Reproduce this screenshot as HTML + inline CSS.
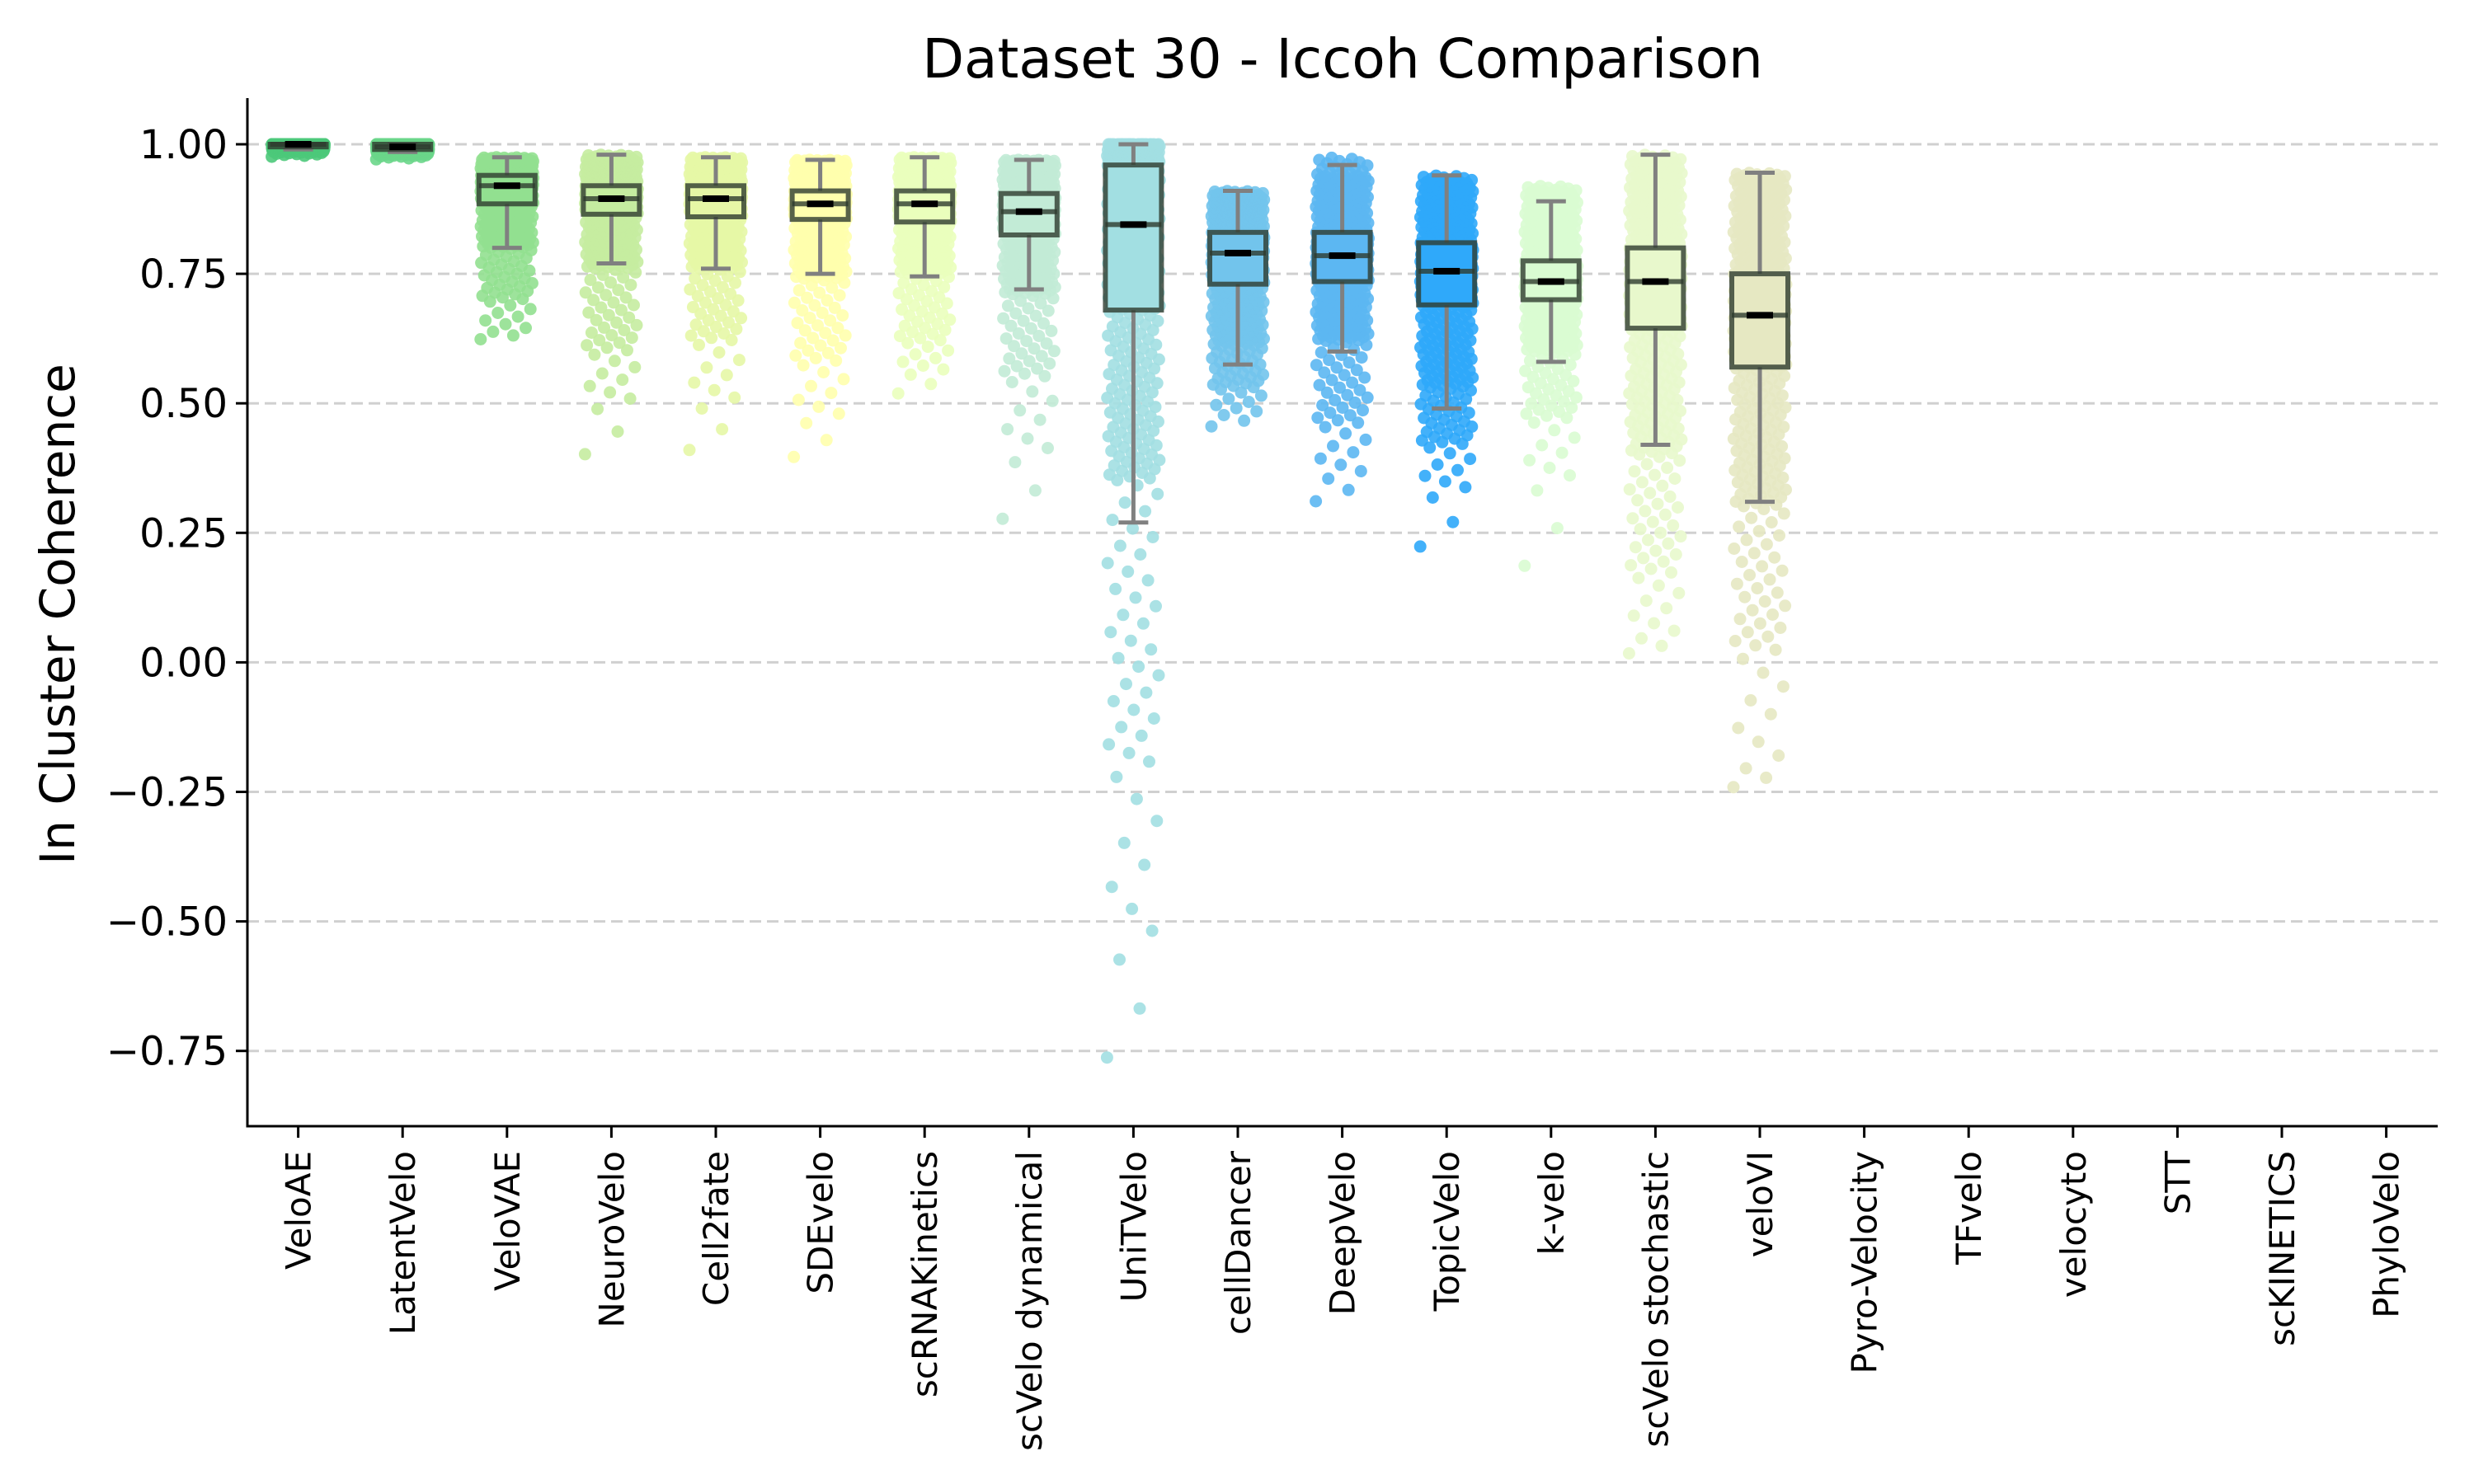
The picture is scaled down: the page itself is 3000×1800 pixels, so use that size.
<!DOCTYPE html>
<html><head><meta charset="utf-8"><style>
html,body{margin:0;padding:0;background:#fff}
svg{display:block}
text{font-family:"DejaVu Sans","Liberation Sans",sans-serif;fill:#000}
</style></head><body>
<svg id="chart" width="3000" height="1800" viewBox="0 0 3000 1800" xmlns="http://www.w3.org/2000/svg">
<text x="1628" y="94" font-size="66" text-anchor="middle">Dataset 30 - Iccoh Comparison</text>
<text transform="translate(90,745) rotate(-90)" font-size="58" text-anchor="middle">In Cluster Coherence</text>
<g id="grid"></g><g id="points"></g><g id="boxes"></g><g id="axes"></g>
</svg>
<script>
const categories=["VeloAE","LatentVelo","VeloVAE","NeuroVelo","Cell2fate","SDEvelo","scRNAKinetics","scVelo dynamical","UniTVelo","cellDancer","DeepVelo","TopicVelo","k-velo","scVelo stochastic","veloVI","Pyro-Velocity","TFvelo","velocyto","STT","scKINETICS","PhyloVelo"];
const colors=["#4cc97a","#6ad68a","#92e090","#c5eca0","#e6f7a6","#ffffad","#eaffbc","#c2ebd6","#a2dfe2","#72c4ec","#5cb7f2","#2fa9fa","#d9fcd2","#e8f8cc","#e6e8c2"];
const quantileKnots=[0,0.005,0.02,0.08,0.25,0.5,0.75,0.97,1];
const distVeloAE=[0.975,0.98,0.985,0.99,0.995,1.0,1.0,1.0,1.0];
const distLatentVelo=[0.97,0.975,0.98,0.985,0.99,0.995,1.0,1.0,1.0];
const distVeloVAE=[0.62,0.64,0.70,0.80,0.885,0.92,0.94,0.97,0.975];
const distNeuroVelo=[0.38,0.50,0.60,0.76,0.865,0.895,0.92,0.97,0.98];
const distCell2fate=[0.39,0.50,0.62,0.76,0.86,0.895,0.92,0.97,0.975];
const distSDEvelo=[0.38,0.47,0.58,0.74,0.855,0.885,0.91,0.965,0.97];
const distScRNAKinetics=[0.51,0.56,0.62,0.75,0.85,0.885,0.91,0.97,0.975];
const distScVeloDyn=[0.25,0.40,0.55,0.71,0.825,0.87,0.905,0.965,0.97];
const distUniTVelo=[-0.81,-0.55,-0.2,0.35,0.68,0.845,0.96,1.0,1.0];
const distCellDancer=[0.45,0.48,0.53,0.61,0.73,0.79,0.83,0.9,0.91];
const distDeepVelo=[0.30,0.36,0.46,0.62,0.735,0.785,0.83,0.94,0.975];
const distTopicVelo=[0.20,0.33,0.42,0.53,0.69,0.755,0.81,0.92,0.94];
const distKVelo=[0.15,0.35,0.47,0.60,0.70,0.735,0.775,0.9,0.92];
const distScVeloStoch=[0.01,0.05,0.17,0.40,0.645,0.735,0.80,0.96,0.98];
const distVeloVI=[-0.25,-0.2,0.02,0.30,0.57,0.67,0.75,0.93,0.945];
const q1=[0.995,0.99,0.885,0.865,0.86,0.855,0.85,0.825,0.68,0.73,0.735,0.69,0.70,0.645,0.57];
const medians=[1.0,0.995,0.92,0.895,0.895,0.885,0.885,0.87,0.845,0.79,0.785,0.755,0.735,0.735,0.67];
const q3=[1.0,1.0,0.94,0.92,0.92,0.91,0.91,0.905,0.96,0.83,0.83,0.81,0.775,0.80,0.75];
const whiskLo=[0.99,0.985,0.80,0.77,0.76,0.75,0.745,0.72,0.27,0.575,0.60,0.49,0.58,0.42,0.31];
const whiskHi=[1.0,1.0,0.975,0.98,0.975,0.97,0.975,0.97,1.0,0.91,0.96,0.94,0.89,0.98,0.945];
const yTicks=[1.0,0.75,0.5,0.25,0.0,-0.25,-0.5,-0.75];
const yTickLabels=["1.00","0.75","0.50","0.25","0.00","\u22120.25","\u22120.50","\u22120.75"];
const dists=[distVeloAE,distLatentVelo,distVeloVAE,distNeuroVelo,distCell2fate,distSDEvelo,distScRNAKinetics,distScVeloDyn,distUniTVelo,distCellDancer,distDeepVelo,distTopicVelo,distKVelo,distScVeloStoch,distVeloVI];

const NS="http://www.w3.org/2000/svg";
const L=300,R=2956,T=119,B=1366;
function yS(v){return 175+(1-v)*628.4;}
function xS(i){return 361.6+i*126.6;}
function mk(tag,attrs,parent){const e=document.createElementNS(NS,tag);for(const k in attrs)e.setAttribute(k,attrs[k]);parent.appendChild(e);return e;}
const gGrid=document.getElementById('grid'),gPts=document.getElementById('points'),gBox=document.getElementById('boxes'),gAx=document.getElementById('axes');

yTicks.forEach((v,k)=>{
  const gl=mk('line',{x1:L,x2:R,y1:yS(v),y2:yS(v),stroke:'#d0d0d0','stroke-width':3,'stroke-dasharray':'14,7'},gGrid);
  
  
  const tk=mk('line',{x1:L-14,x2:L,y1:yS(v),y2:yS(v),stroke:'#000','stroke-width':3},gAx);
  
  
  const t=mk('text',{x:L-24,y:yS(v)+17,'font-size':48,'text-anchor':'end'},gAx);
  t.textContent=yTickLabels[k];
  
  
});

function quant(d,u){for(let k=1;k<quantileKnots.length;k++){if(u<=quantileKnots[k]){const a=quantileKnots[k-1],b=quantileKnots[k];return d[k-1]+(d[k]-d[k-1])*(u-a)/(b-a);}}return d[d.length-1];}
const N=550;
dists.forEach((d,i)=>{
  const g=mk('g',{fill:colors[i],'fill-opacity':0.9},gPts);
  
  
  for(let j=0;j<N;j++){
    const u=(j+0.5)/N;
    const jit=(((j*0.6180339887)%1)-0.5)*2*32;
    mk('circle',{cx:(xS(i)+jit).toFixed(1),cy:yS(quant(d,u)).toFixed(1),r:7.5},g);
  }
});

medians.forEach((m,i)=>{
  const x=xS(i),w=68,cw=36;
  const g=mk('g',{},gBox);
  
  
  mk('line',{x1:x,x2:x,y1:yS(whiskHi[i]),y2:yS(q3[i]),stroke:'#808080','stroke-width':5},g);
  mk('line',{x1:x,x2:x,y1:yS(q1[i]),y2:yS(whiskLo[i]),stroke:'#808080','stroke-width':5},g);
  mk('line',{x1:x-cw/2,x2:x+cw/2,y1:yS(whiskHi[i]),y2:yS(whiskHi[i]),stroke:'#808080','stroke-width':5},g);
  mk('line',{x1:x-cw/2,x2:x+cw/2,y1:yS(whiskLo[i]),y2:yS(whiskLo[i]),stroke:'#808080','stroke-width':5},g);
  mk('rect',{x:x-w/2,y:yS(q3[i]),width:w,height:Math.max(yS(q1[i])-yS(q3[i]),2),fill:colors[i],stroke:'#2e3b2e','stroke-opacity':0.8,'stroke-width':6},g);
  mk('line',{x1:x-w/2,x2:x+w/2,y1:yS(m),y2:yS(m),stroke:'#2e3b2e','stroke-opacity':0.8,'stroke-width':6},g);
  mk('rect',{x:x-16,y:yS(m)-4,width:32,height:8,fill:'#000'},g);
});

const ax1=mk('line',{x1:L,x2:L,y1:T,y2:B+1.5,stroke:'#000','stroke-width':3},gAx);


const ax2=mk('line',{x1:L-1.5,x2:R,y1:B,y2:B,stroke:'#000','stroke-width':3},gAx);


categories.forEach((c,i)=>{
  const x=xS(i);
  const tk=mk('line',{x1:x,x2:x,y1:B,y2:B+14,stroke:'#000','stroke-width':3},gAx);
  
  
  const t=mk('text',{transform:`translate(${x+15},${B+30}) rotate(-90)`,'font-size':42,'text-anchor':'end'},gAx);
  t.textContent=c;
  
  
});
</script>
</body></html>
